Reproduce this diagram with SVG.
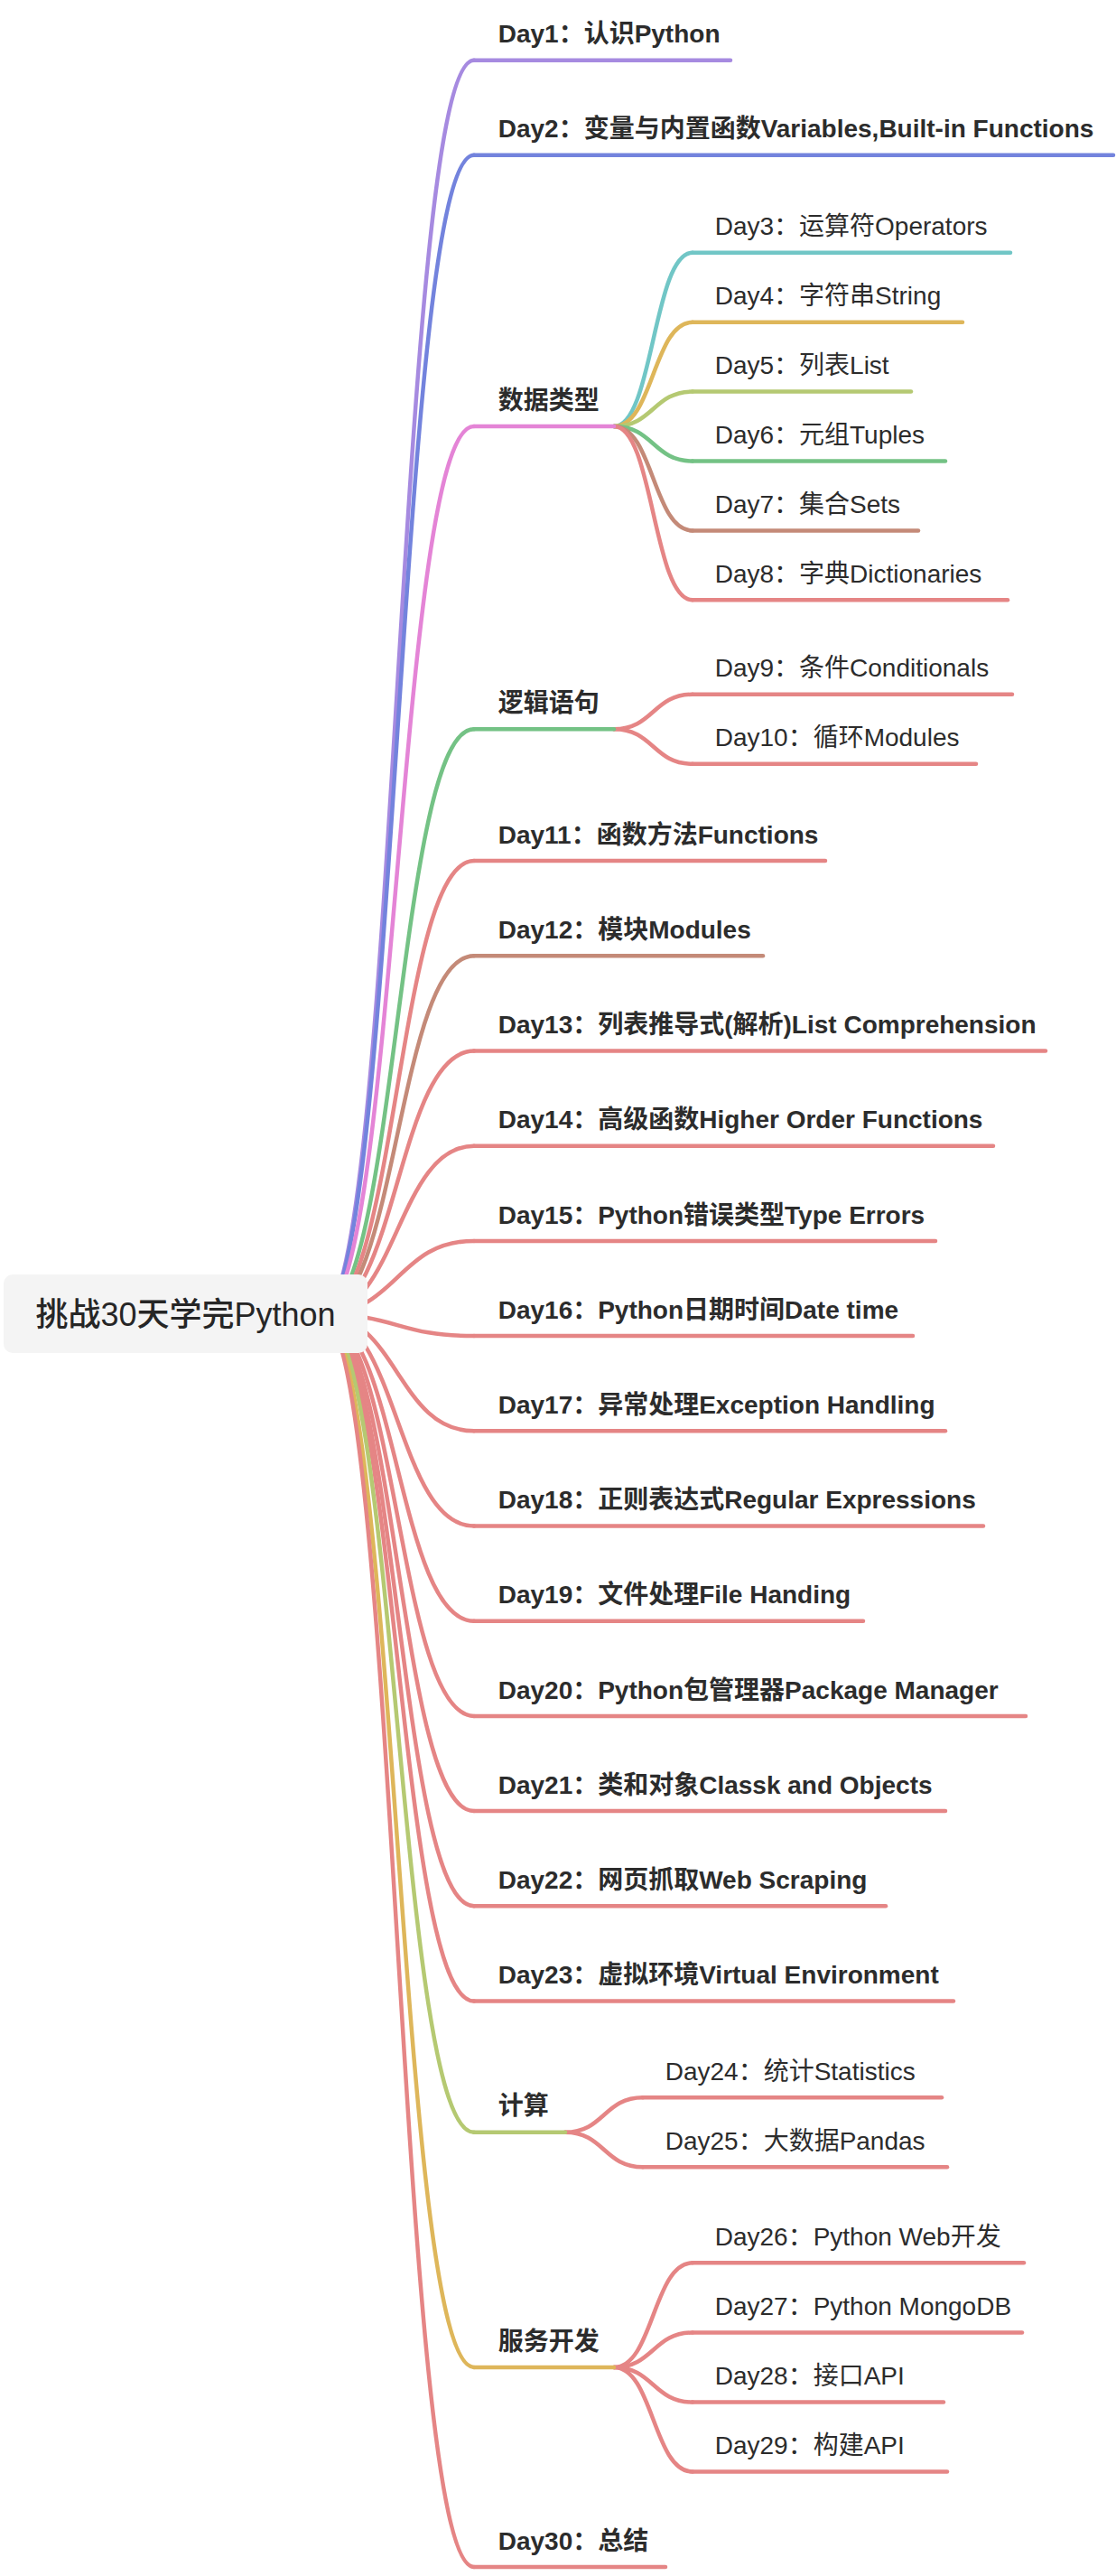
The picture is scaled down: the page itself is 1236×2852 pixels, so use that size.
<svg xmlns="http://www.w3.org/2000/svg" width="1236" height="2852" viewBox="0 0 1236 2852">
<style>
.t1{font-family:"Liberation Sans","Noto Sans CJK SC",sans-serif;font-size:28px;font-weight:600;fill:#2c2c2c}
.t2{font-family:"Liberation Sans","Noto Sans CJK SC",sans-serif;font-size:28px;font-weight:400;fill:#2c2c2c}
.tr{font-family:"Liberation Sans","Noto Sans CJK SC",sans-serif;font-size:36px;font-weight:500;fill:#262626}
.c{fill:none;stroke-width:4.5;stroke-linecap:round}
.pu{stroke:#a68ae0}.bl{stroke:#7383dd}.pk{stroke:#e484d6}.tl{stroke:#71c6c6}.gd{stroke:#deb65a}.yg{stroke:#b5c972}.gr{stroke:#74c285}.br{stroke:#c48a78}.sa{stroke:#e58585}
</style>
<rect width="1236" height="2852" fill="#ffffff"/>
<g id="connectors">
<path class="c pu" d="M355 1455 C440 1455 440 66.7 525 66.7"/>
<path class="c bl" d="M355 1455 C440 1455 440 171.7 525 171.7"/>
<path class="c pk" d="M355 1455 C440 1455 440 472 525 472"/>
<path class="c gr" d="M355 1455 C440 1455 440 807.2 525 807.2"/>
<path class="c sa" d="M355 1455 C440 1455 440 953.1 525 953.1"/>
<path class="c br" d="M355 1455 C440 1455 440 1058.3 525 1058.3"/>
<path class="c sa" d="M355 1455 C440 1455 440 1163.5 525 1163.5"/>
<path class="c sa" d="M355 1455 C440 1455 440 1268.7 525 1268.7"/>
<path class="c sa" d="M355 1455 C440 1455 440 1373.9 525 1373.9"/>
<path class="c sa" d="M355 1455 C440 1455 440 1479.1 525 1479.1"/>
<path class="c sa" d="M355 1455 C440 1455 440 1584.3 525 1584.3"/>
<path class="c sa" d="M355 1455 C440 1455 440 1689.5 525 1689.5"/>
<path class="c sa" d="M355 1455 C440 1455 440 1794.7 525 1794.7"/>
<path class="c sa" d="M355 1455 C440 1455 440 1899.9 525 1899.9"/>
<path class="c sa" d="M355 1455 C440 1455 440 2005.1 525 2005.1"/>
<path class="c sa" d="M355 1455 C440 1455 440 2110.3 525 2110.3"/>
<path class="c sa" d="M355 1455 C440 1455 440 2215.5 525 2215.5"/>
<path class="c yg" d="M355 1455 C440 1455 440 2360.8 525 2360.8"/>
<path class="c gd" d="M355 1455 C440 1455 440 2620.9 525 2620.9"/>
<path class="c sa" d="M355 1455 C440 1455 440 2842 525 2842"/>
<path class="c tl" d="M680 472 C723.5 472 723.5 279.8 767 279.8"/>
<path class="c gd" d="M680 472 C723.5 472 723.5 356.7 767 356.7"/>
<path class="c yg" d="M680 472 C723.5 472 723.5 433.6 767 433.6"/>
<path class="c gr" d="M680 472 C723.5 472 723.5 510.5 767 510.5"/>
<path class="c br" d="M680 472 C723.5 472 723.5 587.4 767 587.4"/>
<path class="c sa" d="M680 472 C723.5 472 723.5 664.3 767 664.3"/>
<path class="c sa" d="M680 807.2 C723.5 807.2 723.5 768.7 767 768.7"/>
<path class="c sa" d="M680 807.2 C723.5 807.2 723.5 845.7 767 845.7"/>
<path class="c sa" d="M626 2360.8 C669 2360.8 669 2322.3 712 2322.3"/>
<path class="c sa" d="M626 2360.8 C669 2360.8 669 2399.3 712 2399.3"/>
<path class="c sa" d="M680 2620.9 C723.5 2620.9 723.5 2505.3 767 2505.3"/>
<path class="c sa" d="M680 2620.9 C723.5 2620.9 723.5 2582.5 767 2582.5"/>
<path class="c sa" d="M680 2620.9 C723.5 2620.9 723.5 2659.5 767 2659.5"/>
<path class="c sa" d="M680 2620.9 C723.5 2620.9 723.5 2736.5 767 2736.5"/>
</g>
<g id="root">
<rect x="4" y="1411" width="403" height="87" rx="10" fill="#f4f4f4"/>
<text class="tr" x="205.5" y="1468" text-anchor="middle">挑战30天学完Python</text>
</g>
<g id="day1"><path class="c pu" d="M525 66.7H809"/><text class="t1" x="551.7" y="47.3">Day1：认识Python</text></g>
<g id="day2"><path class="c bl" d="M525 171.7H1233"/><text class="t1" x="551.7" y="152.3">Day2：变量与内置函数Variables,Built-in Functions</text></g>
<g id="datatypes"><path class="c pk" d="M525 472H680"/><text class="t1" x="551.7" y="452.6">数据类型</text></g>
<g id="day3"><path class="c tl" d="M767 279.8H1119"/><text class="t2" x="791.7" y="260.4">Day3：运算符Operators</text></g>
<g id="day4"><path class="c gd" d="M767 356.7H1066"/><text class="t2" x="791.7" y="337.3">Day4：字符串String</text></g>
<g id="day5"><path class="c yg" d="M767 433.6H1009"/><text class="t2" x="791.7" y="414.2">Day5：列表List</text></g>
<g id="day6"><path class="c gr" d="M767 510.5H1047"/><text class="t2" x="791.7" y="491.1">Day6：元组Tuples</text></g>
<g id="day7"><path class="c br" d="M767 587.4H1017"/><text class="t2" x="791.7" y="568">Day7：集合Sets</text></g>
<g id="day8"><path class="c sa" d="M767 664.3H1116"/><text class="t2" x="791.7" y="644.9">Day8：字典Dictionaries</text></g>
<g id="logic"><path class="c gr" d="M525 807.2H680"/><text class="t1" x="551.7" y="787.8">逻辑语句</text></g>
<g id="day9"><path class="c sa" d="M767 768.7H1121"/><text class="t2" x="791.7" y="749.3">Day9：条件Conditionals</text></g>
<g id="day10"><path class="c sa" d="M767 845.7H1081"/><text class="t2" x="791.7" y="826.3">Day10：循环Modules</text></g>
<g id="day11"><path class="c sa" d="M525 953.1H914"/><text class="t1" x="551.7" y="933.7">Day11：函数方法Functions</text></g>
<g id="day12"><path class="c br" d="M525 1058.3H845"/><text class="t1" x="551.7" y="1038.9">Day12：模块Modules</text></g>
<g id="day13"><path class="c sa" d="M525 1163.5H1158"/><text class="t1" x="551.7" y="1144.1">Day13：列表推导式(解析)List Comprehension</text></g>
<g id="day14"><path class="c sa" d="M525 1268.7H1100"/><text class="t1" x="551.7" y="1249.3">Day14：高级函数Higher Order Functions</text></g>
<g id="day15"><path class="c sa" d="M525 1373.9H1036"/><text class="t1" x="551.7" y="1354.5">Day15：Python错误类型Type Errors</text></g>
<g id="day16"><path class="c sa" d="M525 1479.1H1011"/><text class="t1" x="551.7" y="1459.7">Day16：Python日期时间Date time</text></g>
<g id="day17"><path class="c sa" d="M525 1584.3H1047"/><text class="t1" x="551.7" y="1564.9">Day17：异常处理Exception Handling</text></g>
<g id="day18"><path class="c sa" d="M525 1689.5H1089"/><text class="t1" x="551.7" y="1670.1">Day18：正则表达式Regular Expressions</text></g>
<g id="day19"><path class="c sa" d="M525 1794.7H956"/><text class="t1" x="551.7" y="1775.3">Day19：文件处理File Handing</text></g>
<g id="day20"><path class="c sa" d="M525 1899.9H1136"/><text class="t1" x="551.7" y="1880.5">Day20：Python包管理器Package Manager</text></g>
<g id="day21"><path class="c sa" d="M525 2005.1H1047"/><text class="t1" x="551.7" y="1985.7">Day21：类和对象Classk and Objects</text></g>
<g id="day22"><path class="c sa" d="M525 2110.3H981"/><text class="t1" x="551.7" y="2090.9">Day22：网页抓取Web Scraping</text></g>
<g id="day23"><path class="c sa" d="M525 2215.5H1056"/><text class="t1" x="551.7" y="2196.1">Day23：虚拟环境Virtual Environment</text></g>
<g id="compute"><path class="c yg" d="M525 2360.8H626"/><text class="t1" x="551.7" y="2341.4">计算</text></g>
<g id="day24"><path class="c sa" d="M712 2322.3H1043"/><text class="t2" x="736.7" y="2302.9">Day24：统计Statistics</text></g>
<g id="day25"><path class="c sa" d="M712 2399.3H1049"/><text class="t2" x="736.7" y="2379.9">Day25：大数据Pandas</text></g>
<g id="service"><path class="c gd" d="M525 2620.9H680"/><text class="t1" x="551.7" y="2601.5">服务开发</text></g>
<g id="day26"><path class="c sa" d="M767 2505.3H1134"/><text class="t2" x="791.7" y="2485.9">Day26：Python Web开发</text></g>
<g id="day27"><path class="c sa" d="M767 2582.5H1132"/><text class="t2" x="791.7" y="2563.1">Day27：Python MongoDB</text></g>
<g id="day28"><path class="c sa" d="M767 2659.5H1045"/><text class="t2" x="791.7" y="2640.1">Day28：接口API</text></g>
<g id="day29"><path class="c sa" d="M767 2736.5H1049"/><text class="t2" x="791.7" y="2717.1">Day29：构建API</text></g>
<g id="day30"><path class="c sa" d="M525 2842H737"/><text class="t1" x="551.7" y="2822.6">Day30：总结</text></g>
</svg>
